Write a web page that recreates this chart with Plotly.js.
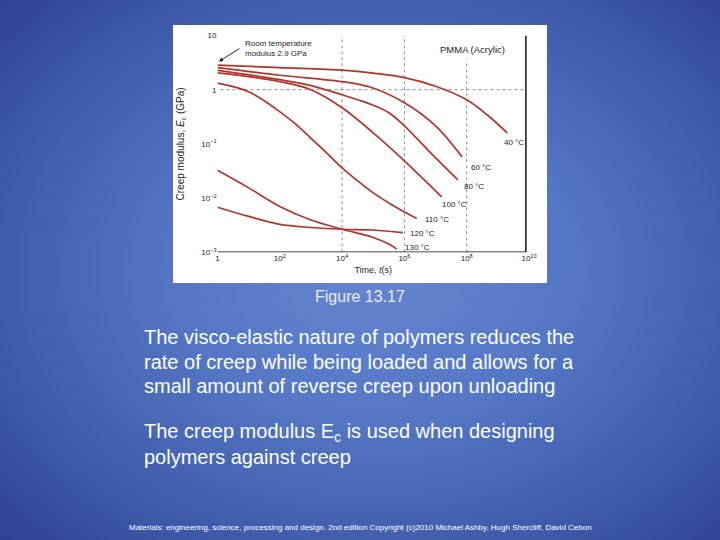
<!DOCTYPE html>
<html>
<head>
<meta charset="utf-8">
<script src="https://cdn.plot.ly/plotly-3.0.1.min.js"></script>
<style>
  html, body { margin: 0; padding: 0; width: 720px; height: 540px; overflow: hidden; }
  body { background: radial-gradient(ellipse 78% 80% at 52% 50%, #6587d1 0%, #5577c4 35%, #3d58a8 70%, #26398a 100%); }
  #chart { width: 720px; height: 540px; }
</style>
</head>
<body>
<div id="chart"></div>
<script>
// ---- Data (time in s, creep modulus in GPa) ----
const seriesNames = ["40 °C", "60 °C", "80 °C", "100 °C", "110 °C", "120 °C", "130 °C"];

const t40 = [1, 1e2, 1e4, 1e5, 1e6, 1e7, 1e8, 4.5e8, 2.0e9];
const E40 = [2.84, 2.55, 2.29, 2.02, 1.67, 1.16, 0.653, 0.345, 0.160];

const t60 = [1, 1e2, 1e4, 7.9e4, 1e6, 1e7, 7.1e7];
const E60 = [2.55, 1.85, 1.41, 1.12, 0.575, 0.216, 0.0577];

const t80 = [1, 1e2, 1e3, 1e4, 3.16e4, 1e5, 3.16e5, 1e6, 5.6e6, 5.2e7];
const E80 = [2.27, 1.53, 1.19, 0.808, 0.653, 0.517, 0.376, 0.216, 0.0778, 0.0217];

const t100 = [1, 10, 1e2, 1e3, 1e4, 1e5, 1e6, 1e7, 1.58e7];
const E100 = [2.04, 1.74, 1.41, 1.0, 0.465, 0.160, 0.0487, 0.0136, 0.0105];

const t110 = [1, 3.16, 10, 31.6, 1e2, 316, 1e3, 3160, 1e4, 3.16e4, 1e5, 3.16e5, 1e6, 2.5e6];
const E110 = [1.32, 1.14, 0.918, 0.626, 0.392, 0.235, 0.127, 0.0685, 0.0362, 0.0208, 0.0125, 0.00815, 0.00556, 0.00422];

const t120 = [1, 10, 1e2, 1e3, 1e4, 1e5, 8.9e5];
const E120 = [0.00679, 0.00459, 0.00327, 0.00287, 0.00266, 0.00258, 0.00230];

const t130 = [1, 10, 1e2, 1e3, 1e4, 1e5, 3.16e5, 5.6e5];
const E130 = [0.0325, 0.01544, 0.00703, 0.00395, 0.00266, 0.00188, 0.00142, 0.00115];

const xTickVals = [1, 1e2, 1e4, 1e6, 1e8, 1e10];
const xTickText = ["1", "10<sup>2</sup>", "10<sup>4</sup>", "10<sup>6</sup>", "10<sup>8</sup>", "10<sup>10</sup>"];
const yTickVals = [10, 1, 0.1, 0.01, 0.001];
const yTickText = ["10", "1", "10<sup>−1</sup>", "10<sup>−2</sup>", "10<sup>−3</sup>"];

const slideCaption = "Figure 13.17";
const bodyLines1 = [
  "The visco-elastic nature of polymers reduces the",
  "rate of creep while being loaded and allows for a",
  "small amount of reverse creep upon unloading"
];
const bodyLines2 = [
  "The creep modulus E<sub>c</sub> is used when designing",
  "polymers against creep"
];
const footer = "Materials: engineering, science, processing and design. 2nd edition Copyright (c)2010 Michael Ashby, Hugh Shercliff, David Cebon";

// ---- Build ----
const W = 720, H = 540;
const px = x => x / W;
const py = y => 1 - y / H;
const lineColor = "#b0352a";
const FONT = "Liberation Sans, Arial, sans-serif";

const ts = [t40, t60, t80, t100, t110, t120, t130];
const Es = [E40, E60, E80, E100, E110, E120, E130];
const traces = ts.map((t, i) => ({
  x: t, y: Es[i], type: "scatter", mode: "lines", name: seriesNames[i],
  line: { color: lineColor, width: 1.7, shape: "spline", smoothing: 1 },
  hoverinfo: "x+y+name"
}));

// label positions (pixels: left edge, vertical centre)
const labelPos = [[502, 142], [469, 167], [462, 186], [440, 204], [423, 219], [408, 233], [403, 247]];

const chartFont = { family: FONT, size: 8, color: "#222" };
const annotations = seriesNames.map((s, i) => ({
  xref: "paper", yref: "paper", x: px(labelPos[i][0]), y: py(labelPos[i][1]),
  xanchor: "left", yanchor: "middle", showarrow: false, text: s, font: chartFont
}));

annotations.push(
  { xref: "paper", yref: "paper", x: px(472), y: py(49), xanchor: "center", yanchor: "middle",
    showarrow: false, text: "PMMA (Acrylic)", font: { family: FONT, size: 9.5, color: "#222" } },
  { xref: "paper", yref: "paper", x: px(243), y: py(48.5), xanchor: "left", yanchor: "middle",
    showarrow: false, align: "left", text: "Room temperature<br>modulus 2.9 GPa",
    font: { family: FONT, size: 8, color: "#222" } },
  { xref: "paper", yref: "paper", x: px(219), y: py(61.5), ax: 22, ay: -14, text: "",
    showarrow: true, arrowhead: 2, arrowsize: 0.9, arrowwidth: 0.9, arrowcolor: "#111" },
  { xref: "paper", yref: "paper", x: 0.5, y: py(296), xanchor: "center", yanchor: "middle",
    showarrow: false, text: slideCaption, font: { family: FONT, size: 16, color: "#e8ecf6" } }
);

const bodyY1 = [337, 361.5, 386];
bodyLines1.forEach((s, i) => annotations.push({
  xref: "paper", yref: "paper", x: px(142), y: py(bodyY1[i]), xanchor: "left", yanchor: "middle",
  showarrow: false, text: s, font: { family: FONT, size: 20, color: "#ffffff" }
}));
const bodyY2 = [432, 457];
bodyLines2.forEach((s, i) => annotations.push({
  xref: "paper", yref: "paper", x: px(142), y: py(bodyY2[i]), xanchor: "left", yanchor: "middle",
  showarrow: false, text: s, font: { family: FONT, size: 20, color: "#ffffff" }
}));
annotations.push({
  xref: "paper", yref: "paper", x: px(127), y: py(527), xanchor: "left", yanchor: "middle",
  showarrow: false, text: footer, font: { family: FONT, size: 8, color: "#ffffff" }
});

// shapes on log axes take data values
const X_END = Math.pow(10, 9.9);  // right frame position (s)
const grid = { color: "#8a8a8a", width: 1, dash: "3px,3px" };
const shapes = [
  // white card
  { type: "rect", xref: "paper", yref: "paper", x0: px(173), x1: px(547), y0: py(25), y1: py(283),
    fillcolor: "#ffffff", line: { width: 0 }, layer: "below" },
  // dashed guide lines
  { type: "line", xref: "x", yref: "y", x0: 1e4, x1: 1e4, y0: 1e-3, y1: 10, line: grid, layer: "below" },
  { type: "line", xref: "x", yref: "y", x0: 1e6, x1: 1e6, y0: 1e-3, y1: 10, line: grid, layer: "below" },
  { type: "line", xref: "x", yref: "y", x0: 1e8, x1: 1e8, y0: 1e-3, y1: 3.55, line: grid, layer: "below" },
  { type: "line", xref: "x", yref: "y", x0: 0.8, x1: X_END, y0: 1, y1: 1, line: grid, layer: "below" },
  // frame
  { type: "line", xref: "x", yref: "y", x0: 1, x1: X_END, y0: 1e-3, y1: 1e-3, line: { color: "#111", width: 1.5 } },
  { type: "line", xref: "x", yref: "y", x0: X_END, x1: X_END, y0: 1e-3, y1: 10, line: { color: "#111", width: 1.5 } }
];

const layout = {
  width: W, height: H,
  margin: { l: 0, r: 0, t: 0, b: 0, pad: 0 },
  paper_bgcolor: "rgba(0,0,0,0)",
  plot_bgcolor: "rgba(0,0,0,0)",
  showlegend: false,
  font: { family: FONT },
  xaxis: {
    type: "log", range: [0, 10], domain: [px(217.5), px(529)],
    tickvals: xTickVals, ticktext: xTickText, ticks: "", showgrid: false, zeroline: false,
    showline: false, tickfont: chartFont, automargin: false,
    title: { text: "Time, <i>t</i>(s)", font: { family: FONT, size: 9, color: "#222" }, standoff: 4 }
  },
  yaxis: {
    type: "log", range: [-3, 1], domain: [py(252.3), py(35.5)],
    tickvals: yTickVals, ticktext: yTickText, ticks: "", showgrid: false, zeroline: false,
    showline: false, tickfont: chartFont, automargin: false,
    title: { text: "Creep modulus, <i>E</i><sub>c</sub> (GPa)", font: { family: FONT, size: 10, color: "#222" }, standoff: 14 }
  },
  shapes: shapes,
  annotations: annotations
};

Plotly.newPlot("chart", traces, layout, { staticPlot: true, displayModeBar: false });
</script>
</body>
</html>
